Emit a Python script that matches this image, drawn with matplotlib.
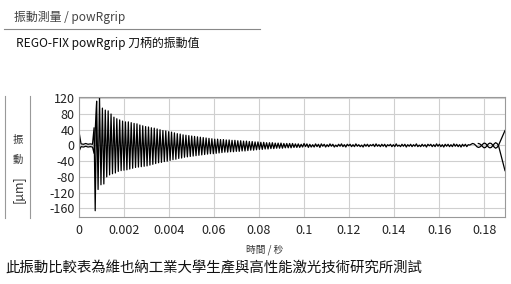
import numpy as np
import matplotlib
matplotlib.use("Agg")
import matplotlib.pyplot as plt
from matplotlib.lines import Line2D

plt.rcParams['font.family'] = ['Noto Sans CJK TC', 'DejaVu Sans']

# ---------------- data ----------------
x_ticks = [0.0, 0.02, 0.04, 0.06, 0.08, 0.10, 0.12, 0.14, 0.16, 0.18]
x_tick_labels = ["0", "0.002", "0.004", "0.06", "0.08", "0.1", "0.12", "0.14", "0.16", "0.18"]
y_ticks = [120, 80, 40, 0, -40, -80, -120, -160]

# lead-in section (two traces forming the "><" at the left edge)
start_t = [0.0, 0.0009, 0.0020, 0.0030, 0.0040, 0.0050, 0.0060, 0.0067]
start_a = [35, 4, 3, 5, 3, 4, 3, 45]
start_b = [-15, -3, -4, -2, -4, -3, -4, -20]

# main oscillation: successive extrema, one every 0.00064 s starting at 0.0072 s
main_t0 = 0.0072
main_dt = 0.00064
main_v = [
    -166, 112, -112, 122, -100, 95, -98, 90, -80, 88, -75, 80, -72, 72, -70, 68, -66, 65, -64, 62,
    -63, 60, -62, 60, -60, 58, -58, 56, -56, 55, -55, 52, -54, 50, -53, 48, -52, 47, -50, 45,
    -48, 44, -46, 42, -44, 40, -43, 38, -41, 37, -40, 35, -38, 34, -36, 32, -35, 30, -33, 29,
    -32, 27, -30, 26, -29, 25, -28, 24, -27, 23, -26, 22, -25, 21, -24, 20, -23, 19, -22, 18,
    -21, 17, -21, 16, -20, 16, -19, 15, -18, 15, -17, 14, -17, 14, -16, 13, -16, 13, -15, 12,
    -15, 12, -14, 11, -14, 11, -13, 10, -12, 10, -12, 9, -11, 9, -10, 8, -10, 8, -9, 7,
    -9, 7, -8, 7, -8, 6, -7, 6, -7, 6, -7, 5, -6, 5, -6, 5, -6, 5, -5, 4,
    -5, 4, -5, 3, -4, 5, -3, 4, -5, 3, -4, 2, -4, 4, -3, 3, -5, 4, -2, 3,
    -4, 2, -3, 4, -2, 3, -4, 1, -3, 3, -2, 4, -3, 2, -4, 3, -1, 3, -3, 2,
    -3, 4, -2, 2, -3, 1, -4, 3, -2, 3, -3, 2, -1, 3, -3, 4, -2, 2, -3, 3,
    -2, 3, -4, 2, -1, 3, -3, 2, -3, 4, -2, 1, -3, 3, -2, 3, -4, 2, -2, 3,
    -3, 2, -2, 4, -3, 1, -3, 3, -2, 2, -4, 3, -1, 3, -3, 2, -3, 4, -2, 3,
    -3, 2, -4, 3, -2, 3, -3, 2, -3, 4, -2, 3, -3, 2, -4, 3, -2, 3, -3, 2,
    1, 3, 5, 4, 1, -3, -5, -4, -1, 3, 6, 5, 1, -4, -6, -5, -1, 4, 7, 5, 0,
]
# second trace at the right edge (mirror loops), shares the last main times
tail_b = [5, 4, 1, -3, -6, -5, -1, 4, 6, 5, 1, -4, -7, -5, 0]
end_t = 0.1893
end_a = -64
end_b = 38

# ---------------- figure ----------------
W, H = 511, 284
fig = plt.figure(figsize=(W / 100, H / 100), dpi=100)
fig.patch.set_facecolor("white")

ax = fig.add_axes([79 / W, 1 - 217 / H, (505 - 79) / W, (217 - 97.5) / H])

main_t = main_t0 + main_dt * np.arange(len(main_v))
ta = np.concatenate([start_t, main_t, [end_t]])
va = np.concatenate([start_a, main_v, [end_a]])
ax.plot(ta, va, color="black", lw=0.9)

tb1 = list(start_t) + [main_t[1]]
vb1 = list(start_b) + [main_v[1]]
ax.plot(tb1, vb1, color="black", lw=0.9)

tb2 = np.concatenate([main_t[-len(tail_b):], [end_t]])
vb2 = np.concatenate([tail_b, [end_b]])
ax.plot(tb2, vb2, color="black", lw=0.9)

ax.set_xlim(0, 0.1893)
ax.set_ylim(-182, 122)
ax.set_xticks(x_ticks)
ax.set_xticklabels(x_tick_labels)
ax.set_yticks(y_ticks)
ax.set_yticklabels([str(v) for v in y_ticks])
ax.grid(True, color="#cfcfcf", lw=0.8)
ax.set_axisbelow(True)
ax.tick_params(length=0, labelsize=9, colors="#222222", pad=3)
ax.tick_params(axis="x", pad=5)
for s in ax.spines.values():
    s.set_color("#999999")
    s.set_linewidth(0.8)

# ---------------- texts ----------------
def fx(px):
    return px / W

def fy(py):
    return 1 - py / H

fig.text(fx(14), fy(17), "振動測量 / powRgrip", fontsize=8.6, color="#444444", va="center", ha="left")
fig.add_artist(Line2D([fx(4), fx(260)], [fy(29), fy(29)], color="#888888", lw=0.8))
fig.text(fx(16), fy(43), "REGO-FIX powRgrip 刀柄的振動值", fontsize=8.6, color="#111111", va="center", ha="left")

# y label block
fig.add_artist(Line2D([fx(4.5), fx(4.5)], [fy(96), fy(218)], color="#999999", lw=0.8))
fig.add_artist(Line2D([fx(29.5), fx(29.5)], [fy(96), fy(218)], color="#999999", lw=0.8))
fig.text(fx(18), fy(140), "振", fontsize=7.5, color="#333333", ha="center", va="center")
fig.text(fx(18), fy(160), "動", fontsize=7.5, color="#333333", ha="center", va="center")
fig.text(fx(18), fy(189), "[µm]", fontsize=9, color="#333333", ha="center", va="center", rotation=90)

fig.text(fx(265), fy(250), "時間 / 秒", fontsize=7, color="#333333", ha="center", va="center")
fig.text(fx(5), fy(268), "此振動比較表為維也納工業大學生產與高性能激光技術研究所測試",
         fontsize=10.4, color="#111111", ha="left", va="center")

fig.savefig("out.png", dpi=100)
